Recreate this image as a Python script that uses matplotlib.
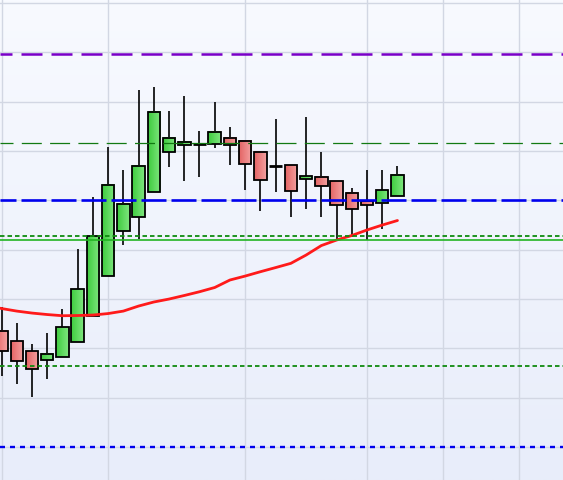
import matplotlib
matplotlib.use("Agg")
import matplotlib.pyplot as plt
import numpy as np
from matplotlib.colors import LinearSegmentedColormap
from matplotlib.patches import Rectangle

plt.rcParams['lines.scale_dashes'] = False

# ---- data ----
opens = [1.09173, 1.09071, 1.08970, 1.08879, 1.08909, 1.09061, 1.09328, 1.09730, 1.10186,
         1.10328, 1.10582, 1.10987, 1.11058, 1.11076, 1.11068, 1.11129, 1.11099, 1.10987,
         1.10848, 1.10855, 1.10720, 1.10734, 1.10693, 1.10572, 1.10490, 1.10473, 1.10541]
highs = [1.09419, 1.09257, 1.09044, 1.09156, 1.09399, 1.10007, 1.10531, 1.11038, 1.10808,
         1.11619, 1.11652, 1.11406, 1.11558, 1.11203, 1.11497, 1.11244, 1.11099, 1.10987,
         1.11325, 1.10855, 1.11345, 1.10990, 1.10693, 1.10622, 1.10808, 1.10808, 1.10848]
lows = [1.08720, 1.08642, 1.08504, 1.08692, 1.08909, 1.09061, 1.09328, 1.09730, 1.10051,
        1.10111, 1.10582, 1.10841, 1.10699, 1.10740, 1.11034, 1.10861, 1.10608, 1.10395,
        1.10588, 1.10328, 1.10415, 1.10328, 1.10098, 1.10132, 1.10098, 1.10213, 1.10541]
closes = [1.08970, 1.08869, 1.08788, 1.08940, 1.09213, 1.09598, 1.10136, 1.10653, 1.10460,
          1.10845, 1.11393, 1.11129, 1.11091, 1.11078, 1.11190, 1.11058, 1.10865, 1.10703,
          1.10848, 1.10592, 1.10750, 1.10642, 1.10450, 1.10409, 1.10450, 1.10602, 1.10754]
moving_avg = [1.09404, 1.09378, 1.09358, 1.09343, 1.09331, 1.09333, 1.09338, 1.09353, 1.09378,
              1.09429, 1.09470, 1.09500, 1.09536, 1.09574, 1.09617, 1.09693, 1.09733, 1.09777,
              1.09819, 1.09862, 1.09946, 1.10042, 1.10098, 1.10144, 1.10200, 1.10250, 1.10296]

level_purple = 1.11987
level_darkgreen = 1.11078
level_blue = 1.10500
level_green_dot_upper = 1.10136
level_green_solid = 1.10095
level_green_dot_lower = 1.08818
level_blue_dot = 1.08000

grid_x = [0, 7, 16, 24, 29, 34]
grid_y = [1.080, 1.085, 1.090, 1.095, 1.100, 1.105, 1.110, 1.115, 1.120, 1.125]

# ---- figure ----
fig = plt.figure(figsize=(5.63, 4.80), dpi=100)
ax = fig.add_axes([0, 0, 1, 1])
x0, x1 = -0.1, 36.87
y0, y1 = 1.07666, 1.12531
ax.set_xlim(x0, x1)
ax.set_ylim(y0, y1)

# background gradient
bg = LinearSegmentedColormap.from_list("bg", ["#e8edfa", "#f8faff"])
grad = np.linspace(0, 1, 256).reshape(-1, 1)
ax.imshow(grad, cmap=bg, extent=[x0, x1, y0, y1], origin="lower",
          aspect="auto", zorder=0)

for gx in grid_x:
    ax.axvline(gx, color="#d2d7e3", lw=1.0, zorder=1)
for gy in grid_y:
    ax.axhline(gy, color="#d2d7e3", lw=1.0, zorder=1)

green_cm = LinearSegmentedColormap.from_list("g", ["#3fcc3f", "#7fe67f"])
red_cm = LinearSegmentedColormap.from_list("r", ["#e46464", "#f4a2a2"])
hgrad = np.linspace(0, 1, 32).reshape(1, -1)

bw = 0.82
xs = np.arange(len(opens))
for i in xs:
    o, h, l, c = opens[i], highs[i], lows[i], closes[i]
    ax.vlines(i, l, h, color="black", lw=1.2, zorder=3)
    lo, hi = min(o, c), max(o, c)
    cm = green_cm if c >= o else red_cm
    if hi - lo > 0.00005:
        ax.imshow(hgrad, cmap=cm, extent=[i - bw / 2, i + bw / 2, lo, hi],
                  aspect="auto", zorder=4, interpolation="bilinear")
        ax.add_patch(Rectangle((i - bw / 2, lo), bw, hi - lo, fill=False,
                               ec="black", lw=1.3, zorder=5))
    else:
        ax.hlines(lo, i - bw / 2, i + bw / 2, color="black", lw=2.0, zorder=5)

ax.set_xlim(x0, x1)
ax.set_ylim(y0, y1)

ax.plot(np.concatenate([[x0], xs]), [moving_avg[0] + 0.00003] + moving_avg,
        color="#ff1a1a", lw=2.0, zorder=6, solid_capstyle="round")

# horizontal levels
def hline(y, color, lw, dashes=None):
    ln, = ax.plot([x0, x1], [y, y], color=color, lw=lw, zorder=7)
    if dashes is not None:
        ln.set_linestyle(dashes)
    return ln

px = 0.72
hline(level_purple, "#7a00c8", 1.8, (9 * px, (21 * px, 9 * px)))
hline(level_darkgreen, "#127a12", 0.9, (7 * px, (20 * px, 8.3 * px)))
hline(level_blue, "#0000ee", 1.9, (9 * px, (25 * px, 5 * px)))
hline(level_green_dot_upper, "#0f8a0f", 1.3, (0, (4.5 * px, 3 * px)))
hline(level_green_solid, "#22b422", 1.2)
hline(level_green_dot_lower, "#0f8a0f", 1.3, (0, (4.5 * px, 3 * px)))
hline(level_blue_dot, "#0000ee", 1.7, (0, (5 * px, 5 * px)))

ax.set_xticks([])
ax.set_yticks([])
for s in ax.spines.values():
    s.set_visible(False)

fig.savefig("out.png", dpi=100)
